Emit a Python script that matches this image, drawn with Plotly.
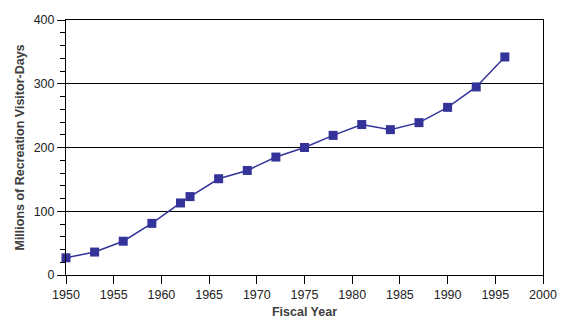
import plotly.graph_objects as go

# Fiscal years and recreation use (millions of visitor-days)
years = [1950, 1953, 1956, 1959, 1962, 1963, 1966, 1969, 1972, 1975,
         1978, 1981, 1984, 1987, 1990, 1993, 1996]
visitor_days = [27, 36, 53, 81, 113, 123, 151, 164, 185, 200,
                219, 236, 228, 239, 263, 295, 342]

x_ticks = list(range(1950, 2001, 5))
y_ticks = [0, 100, 200, 300, 400]

fig = go.Figure()
fig.add_trace(go.Scatter(
    x=years, y=visitor_days,
    mode="lines+markers",
    line=dict(color="#333399", width=1.5),
    marker=dict(symbol="square", size=9, color="#333399"),
    cliponaxis=False,
    showlegend=False,
))

tick_font = dict(family="Liberation Sans, Arial, sans-serif", size=12.5, color="#222222")
title_font = dict(family="Liberation Sans, Arial, sans-serif", size=12.5, color="#404040")

fig.update_layout(
    width=565, height=326,
    margin=dict(l=66, r=22, t=20, b=51),
    paper_bgcolor="white", plot_bgcolor="white",
    xaxis=dict(
        range=[1950, 2000],
        tickvals=x_ticks,
        ticktext=[str(v) for v in x_ticks],
        ticks="outside", ticklen=8, tickwidth=1, tickcolor="black",
        showline=True, linecolor="black", linewidth=1, mirror=True,
        showgrid=False, zeroline=False,
        tickfont=tick_font,
        automargin=False,
        title=dict(text="<b>Fiscal Year</b>", font=title_font, standoff=6),
    ),
    yaxis=dict(
        range=[0, 400],
        tickvals=y_ticks,
        ticks="outside", ticklen=8, tickwidth=1, tickcolor="black",
        minor=dict(dtick=20, ticks="outside", ticklen=5, tickwidth=1,
                   tickcolor="black", showgrid=False),
        showline=True, linecolor="black", linewidth=1, mirror=True,
        showgrid=True, gridcolor="black", gridwidth=1,
        zeroline=False,
        tickfont=tick_font,
        automargin=False,
        title=dict(text="<b>Millions of Recreation Visitor-Days</b>", font=title_font, standoff=6),
    ),
)

fig.write_html("out.html")
